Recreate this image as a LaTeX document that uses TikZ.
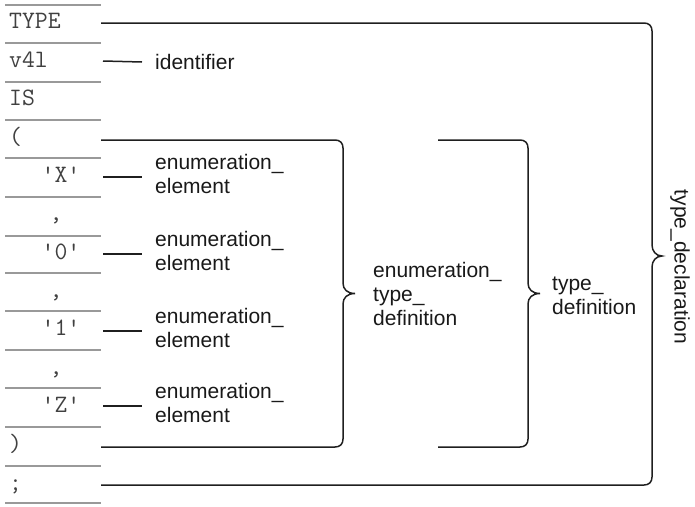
\documentclass[tikz,border=0pt]{standalone}
\usepackage{fontspec}
\setmainfont{Liberation Sans}
\begin{document}
\begin{tikzpicture}[x=1pt,y=-1pt,
  sep/.style={draw=black!40, line width=1.1pt},
  conn/.style={draw=black!88, line width=1.5pt},
  code/.style={inner sep=0pt, font=\fontsize{25}{27}\selectfont\ttfamily, text=black!75},
  lab/.style={inner sep=0pt, align=left, font=\fontsize{21}{24}\selectfont, text=black!90}]
\useasboundingbox (0,0) rectangle (695,506);
% separator lines
\foreach \y in {5,43,82,120,158,197,236,273,311,350,388,427,466,503}
  \draw[sep] (5,\y) -- (101,\y);
% row texts
\node[code, anchor=base west] (rType) at (9,28) {TYPE};
\node[code, anchor=base west] (rId) at (9,67) {v4l};
\node[code, anchor=base west] (rIs) at (9,105) {IS};
\node[code, anchor=base west] (rOpen) at (9,144) {(};
\node[code, anchor=base] (rX) at (61,182) {'X'};
\node[code, anchor=base] (rC1) at (56,220) {,};
\node[code, anchor=base] (r0) at (61,259) {'0'};
\node[code, anchor=base] (rC2) at (56,297) {,};
\node[code, anchor=base] (r1) at (61,335) {'1'};
\node[code, anchor=base] (rC3) at (56,374) {,};
\node[code, anchor=base] (rZ) at (61,412) {'Z'};
\node[code, anchor=base west] (rClose) at (9,451) {)};
\node[code, anchor=base west] (rSemi) at (9,490) {;};
% line start points
\coordinate (sType) at (101,23);
\coordinate (sId) at (103,61);
\coordinate (sOpen) at (101,140);
\coordinate (sX) at (103,177);
\coordinate (s0) at (103,254);
\coordinate (s1) at (103,331);
\coordinate (sZ) at (103,406);
\coordinate (sClose) at (101,447);
\coordinate (sSemi) at (101,485);
% labels
\node[lab, anchor=west] (lId) at (155,62) {identifier};
\node[lab, anchor=west] (lX) at (155,174) {enumeration\_\\element};
\node[lab, anchor=west] (l0) at (155,251) {enumeration\_\\element};
\node[lab, anchor=west] (l1) at (155,328) {enumeration\_\\element};
\node[lab, anchor=west] (lZ) at (155,403) {enumeration\_\\element};
\node[lab, anchor=west] (lEtd) at (373,294) {enumeration\_\\type\_\\definition};
\node[lab, anchor=west] (lTd) at (552,296) {type\_\\definition};
\node[lab, rotate=-90] (lDecl) at (680,267) {type\_declaration};
% short connectors
\draw[conn] (sId) -- (lId.west -| 142,61);
\draw[conn] (sX) -- (142,177);
\draw[conn] (s0) -- (142,254);
\draw[conn] (s1) -- (142,331);
\draw[conn] (sZ) -- (142,406);
% enumeration_type_definition brace
\coordinate (eTip) at (355,293.5);
\draw[conn] (sOpen) -- (335,140) .. controls (340,140) and (343,143) .. (343,148)
  -- (343,283) .. controls (343,289) and (347,293.5) .. (eTip)
  .. controls (347,293.5) and (343,298) .. (343,304)
  -- (343,439) .. controls (343,444) and (340,447) .. (335,447) -- (sClose);
% type_definition brace
\coordinate (tTop) at (438,140);
\coordinate (tBot) at (438,447);
\coordinate (tTip) at (540,293.5);
\draw[conn] (tTop) -- (520,140) .. controls (525,140) and (528,143) .. (528,148)
  -- (528,283) .. controls (528,289) and (532,293.5) .. (tTip)
  .. controls (532,293.5) and (528,298) .. (528,304)
  -- (528,439) .. controls (528,444) and (525,447) .. (520,447) -- (tBot);
% type_declaration brace
\coordinate (dTip) at (662,256);
\draw[conn] (sType) -- (644,23) .. controls (649,23) and (652,26) .. (652,31)
  -- (652,245) .. controls (652,251) and (656,256) .. (dTip)
  .. controls (656,256) and (652,261) .. (652,267)
  -- (652,477) .. controls (652,482) and (649,485) .. (644,485) -- (sSemi);
\end{tikzpicture}
\end{document}
